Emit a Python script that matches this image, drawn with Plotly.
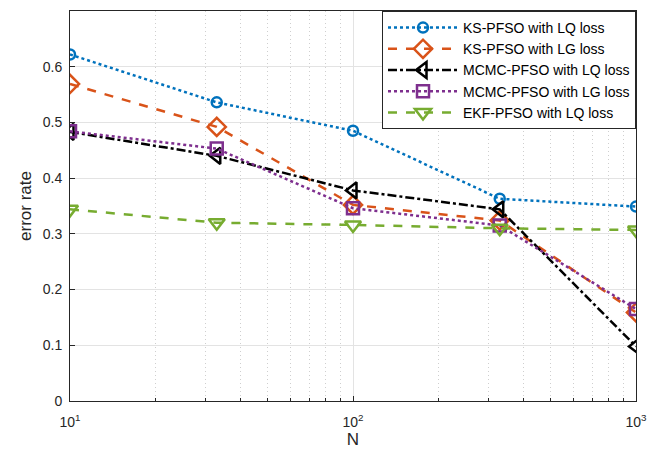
import plotly.graph_objects as go

N = [10, 33, 100, 330, 1000]
ks_lq = [0.622, 0.536, 0.485, 0.363, 0.349]
ks_lg = [0.569, 0.492, 0.352, 0.324, 0.159]
mcmc_lq = [0.483, 0.440, 0.378, 0.344, 0.098]
mcmc_lg = [0.484, 0.453, 0.346, 0.315, 0.165]
ekf_lq = [0.344, 0.320, 0.316, 0.310, 0.307]

names = ["KS-PFSO with LQ loss", "KS-PFSO with LG loss", "MCMC-PFSO with LQ loss",
         "MCMC-PFSO with LG loss", "EKF-PFSO with LQ loss"]
series = [ks_lq, ks_lg, mcmc_lq, mcmc_lg, ekf_lq]
colors = ["#0072BD", "#D95319", "#000000", "#7E2F8E", "#77AC30"]
dashes = ["dot", "dash", "dashdot", "dot", "dash"]
symbols = ["circle-open", "diamond-open", "triangle-left-open", "square-open", "triangle-down-open"]
sizes = [10, 14, 14, 12, 14]

yticks = [0, 0.1, 0.2, 0.3, 0.4, 0.5, 0.6, 0.7]
ytick_text = ["0", "0.1", "0.2", "0.3", "0.4", "0.5", "0.6", "0.7"]
xticks = [10, 100, 1000]
xtick_text = ["10<sup>1</sup>", "10<sup>2</sup>", "10<sup>3</sup>"]
xminor = [20, 30, 40, 50, 60, 70, 80, 90, 200, 300, 400, 500, 600, 700, 800, 900]

fig = go.Figure()
for nm, ys, c, d, s, sz in zip(names, series, colors, dashes, symbols, sizes):
    fig.add_trace(go.Scatter(
        x=N, y=ys, name=nm, mode="lines+markers",
        line=dict(color=c, dash=d, width=2.5),
        marker=dict(symbol=s, size=sz, color=c, line=dict(width=2.5, color=c)),
    ))

font = dict(family="Liberation Sans, Arial, sans-serif", size=14, color="#262626")

fig.update_layout(
    width=670, height=454,
    margin=dict(l=62, r=42, t=3, b=61),
    paper_bgcolor="white", plot_bgcolor="white",
    font=font,
    legend=dict(
        x=1, y=1, xanchor="right", yanchor="top",
        bgcolor="white", bordercolor="#262626", borderwidth=1,
        font=dict(family="Liberation Sans, Arial, sans-serif", size=14, color="#000"),
        tracegroupgap=0, itemwidth=70,
    ),
    xaxis=dict(
        type="log", range=[1, 3],
        tickvals=xticks, ticktext=xtick_text,
        showgrid=True, gridcolor="#E3E3E3", gridwidth=1,
        showline=True, linecolor="#262626", linewidth=1, mirror=True,
        ticks="inside", ticklen=5, tickcolor="#262626",
        ticklabelstandoff=8,
        minor=dict(tickvals=xminor, showgrid=True, gridcolor="#CFCFCF", griddash="1px,3px",
                   gridwidth=1, ticks="inside", ticklen=3, tickcolor="#262626"),
        title=dict(text="N", standoff=4),
        zeroline=False, automargin=False,
    ),
    yaxis=dict(
        range=[0, 0.7],
        tickvals=yticks, ticktext=ytick_text,
        showgrid=True, gridcolor="#E3E3E3", gridwidth=1,
        showline=True, linecolor="#262626", linewidth=1, mirror=True,
        ticks="inside", ticklen=5, tickcolor="#262626",
        ticklabelstandoff=4,
        title=dict(text="error rate", standoff=6),
        zeroline=False, automargin=False,
    ),
)

fig.write_html("out.html")
